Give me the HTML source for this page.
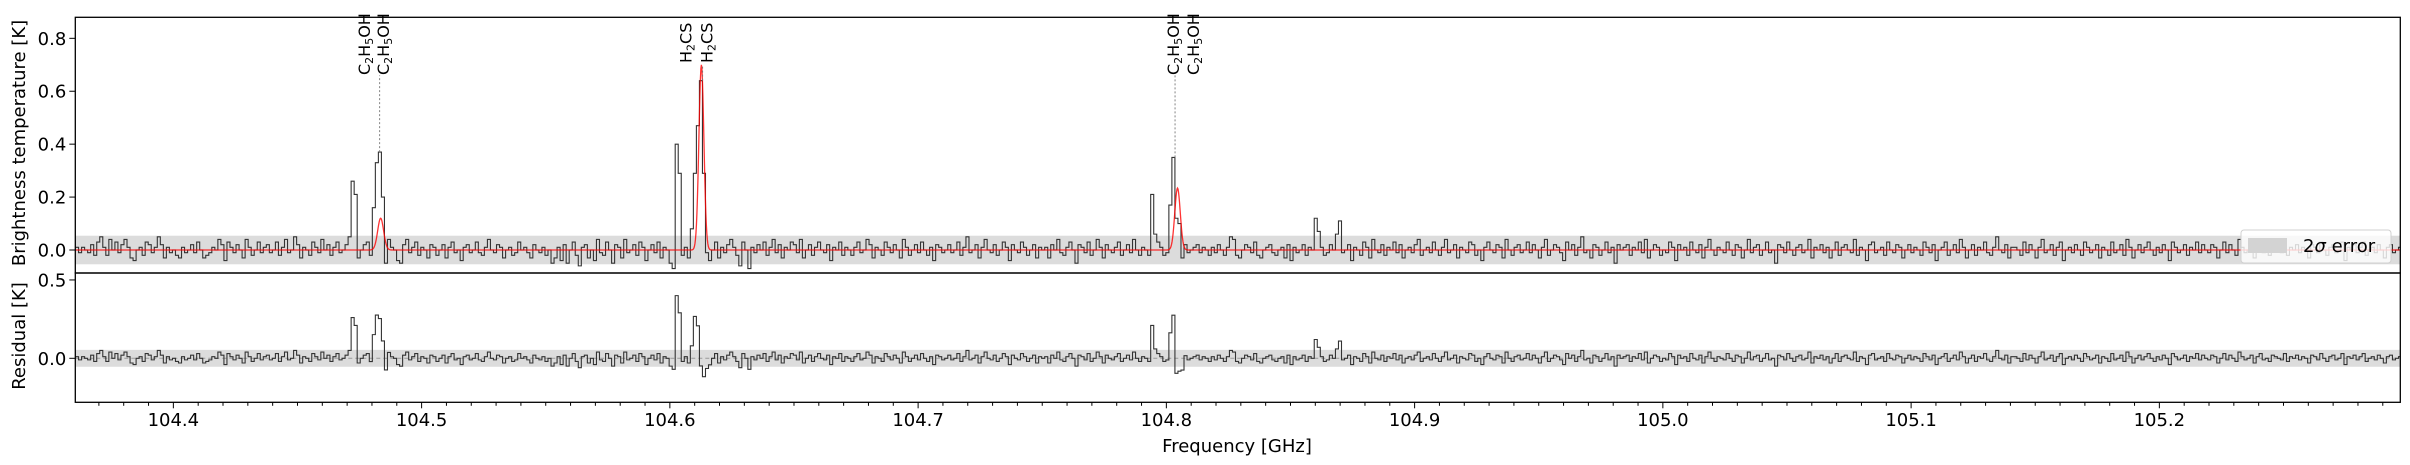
<!DOCTYPE html>
<html><head><meta charset="utf-8"><style>
html,body{margin:0;padding:0;background:#fff;}
svg{display:block;font-family:"DejaVu Sans","Liberation Sans",sans-serif;}
</style></head><body>
<svg id="chart" width="2410" height="465" viewBox="0 0 2410 465" xmlns="http://www.w3.org/2000/svg">
<defs>
<clipPath id="clipU"><rect x="75.3" y="17.3" width="2325" height="255.7"/></clipPath>
<clipPath id="clipL"><rect x="75.3" y="273" width="2325" height="129.3"/></clipPath>
</defs>
<g id="upper"></g>
<g id="lower"></g>
<g id="axes"></g>
</svg>
<script>
// ---- data ----
const chanStart = 104.3612;   // GHz, first channel centre
const chanWidth = 0.00122;    // GHz
// baseline noise, centi-K
const noise = [
1,-1,1,0,-1,2,-2,3,5,1,-2,4,0,3,-1,2,4,1,-3,-4,0,1,-2,3,2,-1,1,5,2,-3,1,-1,
0,-2,-3,1,-1,0,2,-1,3,0,-3,-2,-1,1,0,4,2,-4,3,1,-1,2,0,-3,4,1,-2,0,3,-1,1,2,
-1,0,3,-2,1,4,-1,0,5,2,-3,1,0,-2,3,1,-1,4,0,2,-2,1,3,-1,0,2,-4,1,-1,-3,0,2,
3,-2,-3,0,1,-1,2,4,1,0,-4,-5,2,4,-1,1,3,-2,1,0,-3,2,1,-2,0,2,-3,1,3,-1,0,-4,
1,2,-1,0,3,-1,-2,1,4,0,-1,2,1,-3,0,1,-2,-1,3,0,1,-1,-3,2,0,-1,1,-2,0,-5,-3,1,
-4,2,-5,0,3,-2,-6,1,2,-3,0,-4,4,-1,-2,3,0,-5,2,1,-3,4,-1,0,2,-2,3,1,-4,0,2,-1,
3,-3,1,0,-5,2,4,-1,-2,1,3,0,-4,2,-1,5,1,-2,0,3,-3,1,-1,2,4,1,-2,-6,3,0,-7,1,
-1,2,0,3,-2,1,4,-1,2,-3,1,0,3,2,-1,4,-3,0,2,-2,1,3,0,-1,2,-4,1,0,3,-2,1,0,
-2,1,3,-1,0,4,2,-3,1,0,-2,3,1,-1,2,0,-3,4,1,-2,0,2,-1,3,0,-2,1,-4,2,1,-1,0,
2,-1,0,3,-2,1,5,-1,0,2,-3,1,4,0,-1,2,-2,0,3,1,-4,2,0,-1,3,1,-2,0,2,-3,1,0,
1,-3,2,0,4,-1,-2,1,3,0,-5,2,1,-1,3,-2,0,4,1,-3,2,0,-1,1,3,-2,0,2,-1,4,0,-2,
1,0,-2,2,-1,3,1,-2,0,2,1,-1,-3,0,2,-1,0,1,2,-1,1,0,-2,1,-1,2,0,-2,1,5,4,-2,
-3,0,2,1,-1,3,-2,-3,0,1,2,-1,-2,0,1,-3,2,-4,1,-1,0,2,-2,1,0,-3,3,1,-2,-1,2,0,
-2,3,-1,0,2,-4,1,0,-2,3,1,-3,4,0,-1,2,-2,1,0,3,-1,2,-3,0,1,-1,2,4,-2,0,1,-1,
3,0,-2,1,4,-1,0,2,-3,1,0,-1,3,2,-2,0,-4,1,3,0,-1,2,1,-3,4,0,-2,1,2,-1,0,3,
-1,2,0,-3,1,4,-2,0,2,1,-1,-4,3,0,2,-2,1,5,-1,0,-3,2,1,-2,0,3,-1,1,-5,2,0,1,
2,-2,1,0,3,-1,4,-3,0,2,1,-2,0,-1,3,1,-4,2,0,1,-2,3,0,-1,2,-3,1,4,0,-2,1,0,
-1,3,0,-2,2,1,-3,0,4,-1,1,2,-2,0,3,-1,0,-5,2,1,-1,3,0,-2,1,2,-1,0,4,-3,1,0,
2,-1,1,-3,0,3,-2,1,2,0,-1,4,-2,1,0,-4,2,3,-1,0,1,-2,3,0,-1,2,1,-3,0,2,-1,1,
0,-2,3,1,-1,2,-4,0,1,3,-2,0,2,-1,4,1,-3,0,2,-2,1,0,3,-1,-2,1,5,0,-1,2,-3,1,
1,0,-2,3,-1,2,0,-3,1,4,-1,0,2,-2,1,3,-4,0,1,-1,2,0,-2,3,1,-1,0,2,-3,1,0,-2,
3,-1,0,2,-2,4,1,-3,0,2,-1,1,3,0,-2,1,-1,2,0,-4,3,1,-1,0,2,-2,1,0,3,-1,2,0,
-1,2,1,-3,0,3,-1,2,0,-2,4,1,-1,0,2,-3,1,3,-1,0,-2,2,1,0,-1,3,-2,1,0,2,-1,1,
0,-3,2,1,-1,3,0,-2,1,2,-1,0,3,-4,1,0,2,-1,1,3,-2,0,1,-1,2,0,-3,1,2,-1,0,1
];
// emission channels (index) and brightness (centi-K)
const peakChannels = [90,91,92,98,99,100,101,102,197,198,199,200,202,203,204,205,206,207,208,209,355,356,357,360,361,362,363,364,365,409,410,416,417,418];
const peakValues   = [5,26,21,16,33,37,20,-5,-7,40,29,-2,-3,8,29,47,64,29,-1,-4,21,6,3,-1,17,35,12,10,-3,12,7,6,11,-1];
// model Gaussian components
const modelCentres = [104.4835, 104.6127, 104.8045];
const modelAmps    = [0.12, 0.70, 0.234];
const modelSigmas  = [0.0012, 0.0010, 0.0011];
// line identifications
const idFreqs  = [104.4831, 104.6132, 104.8035];
const idTops   = [0.37, 0.64, 0.35];
const labelNames = ["C2H5OH","C2H5OH","H2CS","H2CS","C2H5OH","C2H5OH"];
const labelFreqs = [104.4768, 104.4844, 104.6063, 104.6148, 104.8027, 104.8107];
const sigma2 = 0.054;
const xTicks = [104.4,104.5,104.6,104.7,104.8,104.9,105.0,105.1,105.2];
const xTickLabels = ["104.4","104.5","104.6","104.7","104.8","104.9","105.0","105.1","105.2"];
const yTicksU = [0.0,0.2,0.4,0.6,0.8];
const yTicksL = [0.0,0.5];

// ---- scales ----
const X0=75.3, X1=2400.3, YT=17.3, YM=273, YB=402.3;
const fMin=104.3605, pxPerGHz=2482.5;
const xs = f => X0 + (f-fMin)*pxPerGHz;
const yU = v => 250 - v*264.6;
const yL = v => 358.3 - v*156.7;
const NS="http://www.w3.org/2000/svg";
function mk(tag, attrs, parent){const e=document.createElementNS(NS,tag);for(const k in attrs)e.setAttribute(k,attrs[k]);parent.appendChild(e);return e;}

const obs = noise.map(v=>v/100);
peakChannels.forEach((c,k)=>{obs[c]=peakValues[k]/100;});
const freqs = obs.map((_,i)=>chanStart+i*chanWidth);
const model = f => modelCentres.reduce((s,c,k)=>s+modelAmps[k]*Math.exp(-((f-c)**2)/(2*modelSigmas[k]**2)),0);
const resid = obs.map((v,i)=>v-model(freqs[i]));

function stepPath(vals, ys){
  let d="";
  vals.forEach((v,i)=>{
    const a=xs(freqs[i]-chanWidth/2), b=xs(freqs[i]+chanWidth/2), y=ys(v);
    d += (i===0?"M":"L")+a.toFixed(2)+","+y.toFixed(2)+"L"+b.toFixed(2)+","+y.toFixed(2);
  });
  return d;
}

const up=document.getElementById('upper'), lo=document.getElementById('lower'), ax=document.getElementById('axes');
const gU=mk('g',{'clip-path':'url(#clipU)'},up);
const gL=mk('g',{'clip-path':'url(#clipL)'},lo);

const bU=mk('rect',{x:X0,y:yU(sigma2),width:X1-X0,height:yU(-sigma2)-yU(sigma2),fill:'#dcdcdc'},gU);


const bL=mk('rect',{x:X0,y:yL(sigma2),width:X1-X0,height:yL(-sigma2)-yL(sigma2),fill:'#dcdcdc'},gL);


const zl=mk('line',{x1:X0,x2:X1,y1:yL(0),y2:yL(0),stroke:'#999','stroke-width':1,'stroke-dasharray':'4,3'},gL);



const sp=mk('path',{d:stepPath(obs,yU),fill:'none',stroke:'#333','stroke-width':1.1},gU);


let md="";
for(let f=fMin; f<=fMin+(X1-X0)/pxPerGHz; f+=0.0002){md+=(md?"L":"M")+xs(f).toFixed(2)+","+yU(model(f)).toFixed(2);}
const mp=mk('path',{d:md,fill:'none',stroke:'#ff0000','stroke-opacity':0.8,'stroke-width':1.3},gU);


const rp=mk('path',{d:stepPath(resid,yL),fill:'none',stroke:'#333','stroke-width':1.1},gL);



idFreqs.forEach((f,k)=>{
  const l=mk('line',{x1:xs(f),x2:xs(f),y1:yU(idTops[k]),y2:yU(idTops[k]===0.64?0.70:0.66),stroke:'#777','stroke-width':0.9,'stroke-dasharray':'2,2'},up);
  
  
});
labelNames.forEach((n,k)=>{
  const x=xs(labelFreqs[k]); const yb = n==="H2CS"?63:75;
  const t=mk('text',{transform:`translate(${(x+6).toFixed(1)},${yb}) rotate(-90)`,'font-size':16,fill:'#000'},up);
  
  
  const parts = n==="H2CS"?[["H",0],["2",1],["CS",0]]:[["C",0],["2",1],["H",0],["5",1],["OH",0]];
  parts.forEach(p=>{const s=mk('tspan',{},t); if(p[1]){s.setAttribute('font-size',11);s.setAttribute('dy',3);} else if(s.previousSibling&&s.previousSibling.getAttribute('font-size')){s.setAttribute('dy',-3);} s.textContent=p[0];});
});

const fr1=mk('rect',{x:X0,y:YT,width:X1-X0,height:YM-YT,fill:'none',stroke:'#000','stroke-width':1.3},ax);


const fr2=mk('rect',{x:X0,y:YM,width:X1-X0,height:YB-YM,fill:'none',stroke:'#000','stroke-width':1.3},ax);



for(let m=104.37; m<105.297; m+=0.01){
  const x=xs(m); const major=xTicks.some(t=>Math.abs(t-m)<0.002);
  mk('line',{x1:x,x2:x,y1:YB,y2:YB+(major?6:3.5),stroke:'#000','stroke-width':1},ax);
}
xTicks.forEach((t,k)=>{
  const tx=mk('text',{x:xs(t),y:426,'font-size':18,'text-anchor':'middle',fill:'#000'},ax);
  
  
  tx.textContent=xTickLabels[k];
});
yTicksU.forEach(v=>{
  mk('line',{x1:X0-6,x2:X0,y1:yU(v),y2:yU(v),stroke:'#000','stroke-width':1},ax);
  const t=mk('text',{x:X0-9,y:yU(v)+6.5,'font-size':18,'text-anchor':'end',fill:'#000'},ax);
  
  
  t.textContent=v.toFixed(1);
});
yTicksL.forEach(v=>{
  mk('line',{x1:X0-6,x2:X0,y1:yL(v),y2:yL(v),stroke:'#000','stroke-width':1},ax);
  const t=mk('text',{x:X0-9,y:yL(v)+6.5,'font-size':18,'text-anchor':'end',fill:'#000'},ax);
  
  
  t.textContent=v.toFixed(1);
});
</script>
<svg style="position:absolute;left:0;top:0" width="2410" height="465" xmlns="http://www.w3.org/2000/svg" font-family="DejaVu Sans, Liberation Sans, sans-serif">
<text x="1237" y="452" font-size="18" text-anchor="middle">Frequency [GHz]</text>
<text transform="translate(25,143) rotate(-90)" font-size="18" text-anchor="middle">Brightness temperature [K]</text>
<text transform="translate(25,336) rotate(-90)" font-size="18" text-anchor="middle">Residual [K]</text>
<g>
<rect x="2241" y="230" width="150" height="33" rx="3" fill="#fff" fill-opacity="0.8" stroke="#d0d0d0" stroke-width="1"/>
<rect x="2248" y="238" width="39" height="15" fill="#d3d3d3"/>
<text x="2303" y="252" font-size="18">2<tspan font-style="italic">σ</tspan> error</text>
</g>
</svg>
</body></html>
